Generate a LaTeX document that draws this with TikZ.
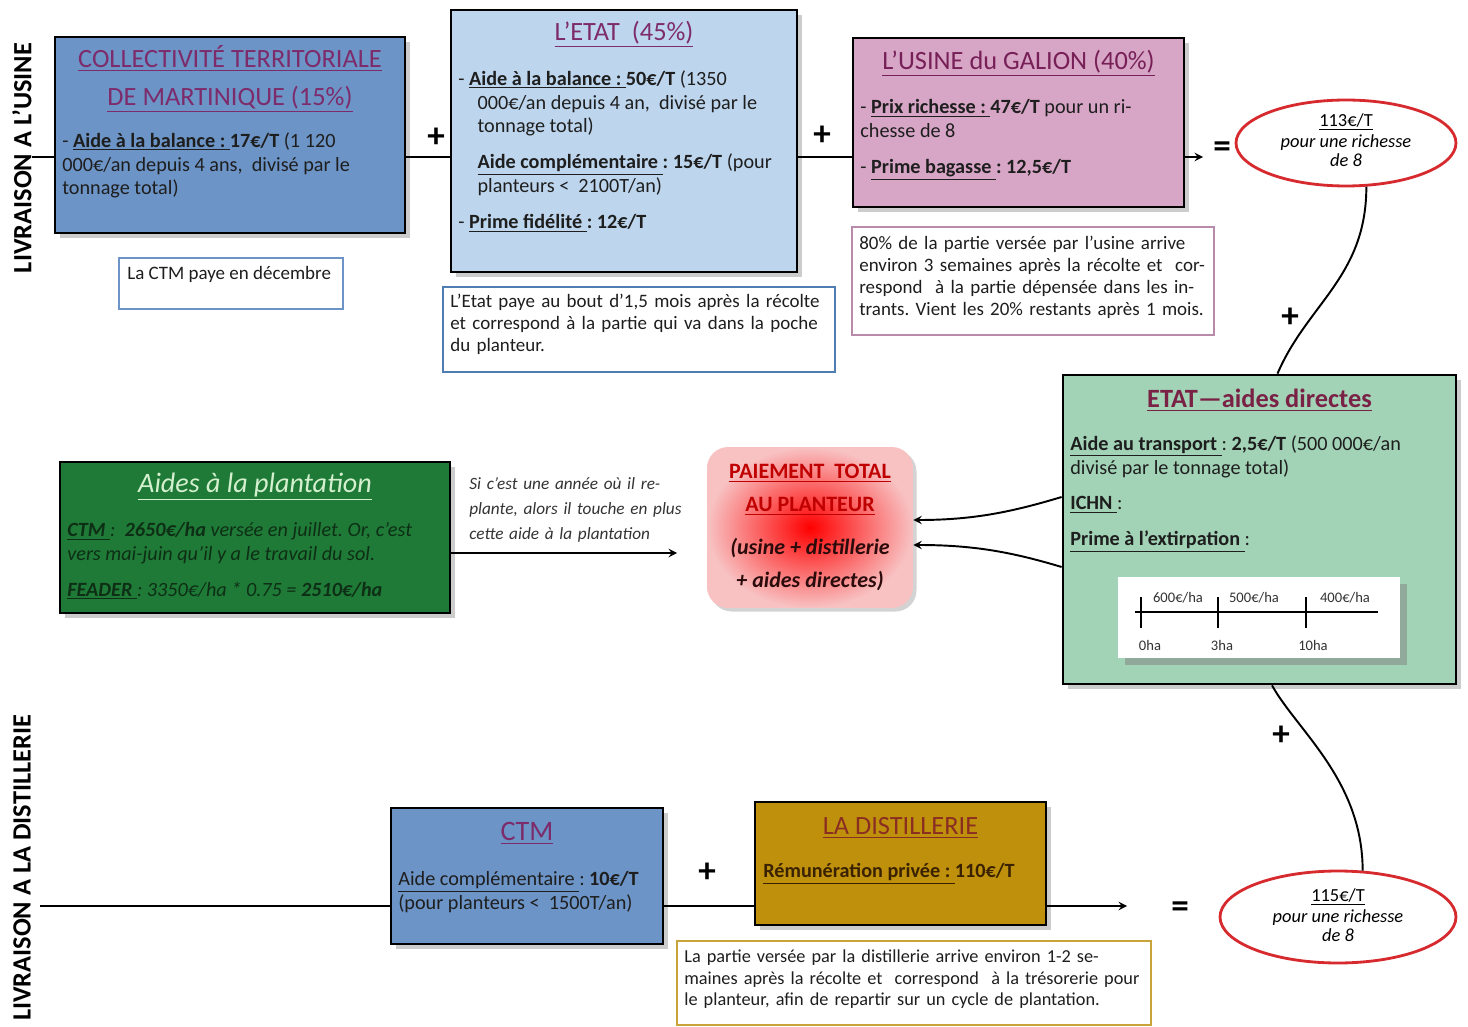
\documentclass[tikz,border=0pt]{standalone}
\usepackage{fontspec}
\setmainfont{Carlito}
\usetikzlibrary{positioning, shapes.geometric, shadows}

\definecolor{ctmblue}{HTML}{6C94C6}
\definecolor{etatblue}{HTML}{BDD6EE}
\definecolor{usinepink}{HTML}{D7A5C5}
\definecolor{eadgreen}{HTML}{A2D3B6}
\definecolor{plantgreen}{HTML}{1E7A36}
\definecolor{plantlight}{HTML}{D4F0CF}
\definecolor{planttxt}{HTML}{0E2E15}
\definecolor{distgold}{HTML}{BE900C}
\definecolor{disttxt}{HTML}{3A2200}
\definecolor{ttlpurple}{HTML}{7D2B6B}
\definecolor{ttlplum}{HTML}{772057}
\definecolor{ttlwine}{HTML}{7A2246}
\definecolor{ttlbrown}{HTML}{8A2E22}
\definecolor{notblue}{HTML}{4F7DB2}
\definecolor{notmauve}{HTML}{B88BAA}
\definecolor{notgold}{HTML}{C9A43A}
\definecolor{ellred}{HTML}{D62A2E}
\definecolor{paiepink}{HTML}{F8C2C3}
\definecolor{paiered}{HTML}{C00000}
\definecolor{paietxt}{HTML}{2B0B0B}
\definecolor{txtdark}{HTML}{1E1E1E}
\definecolor{txtgrey}{HTML}{333333}

\newcommand{\jline}[1]{\makebox[\linewidth][s]{#1}}
\frenchspacing

\begin{document}
\begin{tikzpicture}[x=0.02cm, y=-0.02cm,
    box/.style={draw=black, line width=1.6pt,
                drop shadow={opacity=0.4, shadow xshift=3pt, shadow yshift=-3pt}},
    notebox/.style={draw, line width=1.2pt, fill=white},
    ttl/.style={font=\fontsize{15}{21.5}\selectfont, align=center, inner sep=0pt},
    body/.style={font=\fontsize{11.5}{13.6}\selectfont, align=left,
                 anchor=north west, inner sep=0pt, text=txtdark},
    ntxt/.style={font=\fontsize{10.8}{12.5}\selectfont, align=left,
                 anchor=north west, inner sep=0pt, text=txtdark},
    conn/.style={line width=1.1pt},
    arr/.style={conn, -stealth},
    opsign/.style={font=\bfseries\fontsize{20}{20}\selectfont, inner sep=0pt},
    sidelbl/.style={rotate=90, font=\bfseries\fontsize{15}{16}\selectfont, inner sep=0pt},
    res/.style={ellipse, draw=ellred, line width=1.6pt, fill=white, inner sep=0pt},
    restxt/.style={align=center, inner sep=0pt, font=\fontsize{10.5}{12}\selectfont},
    tlabel/.style={font=\fontsize{8.3}{9}\selectfont, text=txtgrey, inner sep=0pt}
]
\useasboundingbox (0,0) rectangle (1468,1027);

% --- side labels ---
\node[sidelbl] (livU) at (22,158) {LIVRAISON A L’USINE};
\node[sidelbl] (livD) at (22,868) {LIVRAISON A LA DISTILLERIE};

% --- livraison a l'usine ---
\node[box, fill=ctmblue, minimum width=7cm, minimum height=3.92cm] (ctm) at (230,135) {};
\node[ttl, text=ttlpurple] (ctmT) at (230,79)
    {\underline{COLLECTIVITÉ TERRITORIALE}\\ \underline{DE MARTINIQUE (15\%)}};
\node[body] (ctmB) at (62,132)
    {- \textbf{\underline{Aide à la balance :\ }17€/T} (1 120\\000€/an depuis 4 ans,\ \ divisé par le\\tonnage total)};

\node[box, fill=etatblue, minimum width=6.92cm, minimum height=5.24cm] (etat) at (624,141) {};
\node[ttl, text=ttlpurple] (etatT) at (624,34) {\underline{L’ETAT\ \ (45\%)}};
\node[body] (etatB) at (458,70)
    {- \textbf{\underline{Aide à la balance :\ }50€/T} (1350\\
     \hspace*{0.95em}000€/an depuis 4 an,\ \ divisé par le\\
     \hspace*{0.95em}tonnage total)\\[6.8pt]
     \hspace*{0.95em}\textbf{\underline{Aide complémentaire }: 15€/T} (pour\\
     \hspace*{0.95em}planteurs <\ \ 2100T/an)\\[6.8pt]
     - \textbf{\underline{Prime fidélité }: 12€/T}};

\node[box, fill=usinepink, minimum width=6.62cm, minimum height=3.38cm] (usine) at (1018.5,122.5) {};
\node[ttl, text=ttlplum] (usineT) at (1018.5,63) {\underline{L’USINE du GALION (40\%)}};
\node[body] (usineB) at (860,99)
    {- \textbf{\underline{Prix richesse :\ }47€/T} pour un ri-\\chesse de 8\\[6.8pt]
     - \textbf{\underline{Prime bagasse }: 12,5€/T}};

% notes
\node[notebox, draw=ctmblue, minimum width=4.48cm, minimum height=1.02cm] (ctmN) at (231,283.5) {};
\node[ntxt] (ctmNT) at (127,266) {La CTM paye en décembre};

\node[notebox, draw=notblue, minimum width=7.84cm, minimum height=1.7cm] (etatN) at (639,329.5) {};
\node[ntxt, text width=7.56cm] (etatNT) at (450,294)
    {\jline{L’Etat paye au bout d’1,5 mois après la récolte}\\
     \jline{et correspond à la partie qui va dans la poche}\\du planteur.};

\node[notebox, draw=notmauve, minimum width=7.24cm, minimum height=2.16cm] (usineN) at (1033,281) {};
\node[ntxt, text width=6.96cm] (usineNT) at (859,236)
    {\jline{80\% de la partie versée par l’usine arrive}\\
     \jline{environ 3 semaines après la récolte et\ \ cor-}\\
     \jline{respond\ \ à la partie dépensée dans les in-}\\
     trants. Vient les 20\% restants après 1 mois.};

\node[res, minimum width=4.4cm, minimum height=1.72cm] (resU) at (1346,143) {};
\node[restxt] (resUT) at (1346,140)
    {\underline{113€/T}\\\textit{pour une richesse}\\[-1.5pt]\textit{de 8}};

\node[opsign] (p1) at (436,138) {+};
\node[opsign] (p2) at (822,136) {+};
\node[opsign] (eqU) at (1222,150) {=};

\coordinate (lineU) at (32,157);
\coordinate (arrU) at (1203,157);
\draw[conn] (lineU) -- (ctm.west |- lineU);
\draw[conn] (ctm.east |- lineU) -- (etat.west |- lineU);
\draw[conn] (etat.east |- lineU) -- (usine.west |- lineU);
\draw[arr] (usine.east |- lineU) -- (arrU);

% --- aides directes ---
\node[box, fill=eadgreen, minimum width=7.86cm, minimum height=6.18cm] (ead) at (1259.5,529.5) {};
\node[ttl, font=\bfseries\fontsize{15}{18}\selectfont, text=ttlwine] (eadT) at (1259.5,400)
    {\underline{ETAT—aides directes}};
\node[body] (eadB) at (1070,435)
    {\textbf{\underline{Aide au transport }}: \textbf{2,5€/T} (500 000€/an\\divisé par le tonnage total)\\[6.8pt]
     \textbf{\underline{ICHN }}:\\[6.8pt]
     \textbf{\underline{Prime à l’extirpation }}:};

\node[fill=white, minimum width=5.64cm, minimum height=1.62cm,
      drop shadow={opacity=0.5, shadow xshift=4pt, shadow yshift=-4pt}] (tl) at (1259,617.5) {};
\draw[line width=1.4pt] (1135,612) -- (1378,612);
\foreach \x in {1141,1218,1306}
    \draw[line width=1.4pt] (\x,597) -- (\x,628);
\foreach \x/\t [count=\i] in {1178/{600€/ha},1254/{500€/ha},1345/{400€/ha}}
    \node[tlabel] (tlA\i) at (\x,598) {\t};
\foreach \x/\t [count=\i] in {1150/0ha,1222/3ha,1313/10ha}
    \node[tlabel] (tlB\i) at (\x,645) {\t};

\draw[conn] (resU.-65) .. controls +(0,90) and +(30,-70) .. ([xshift=0.36cm]ead.north);
\node[opsign] (p3) at (1290,318) {+};

% --- plantation ---
\node[box, fill=plantgreen, minimum width=7.8cm, minimum height=3.02cm] (plant) at (255,537.5) {};
\node[ttl, font=\itshape\fontsize{16}{18}\selectfont, text=plantlight] (plantT) at (255,487)
    {\underline{Aides à la plantation}};
\node[body, font=\itshape\fontsize{11.5}{13.6}\selectfont, text=planttxt] (plantB) at (67,522)
    {\textbf{\underline{CTM }}:\ \ \textbf{2650€/ha} versée en juillet. Or, c’est\\
     vers mai-juin qu’il y a le travail du sol.\\[6.8pt]
     \textbf{\underline{FEADER }}: 3350€/ha * 0.75 = \textbf{2510€/ha}};

\node[ntxt, font=\itshape\fontsize{9.8}{14.2}\selectfont, text width=4.26cm, text=txtgrey] (plantS) at (469,477)
    {\jline{Si c’est une année où il re-}\\\jline{plante, alors il touche en plus}\\cette aide à la plantation};
\coordinate (plEnd) at (677,553);
\draw[arr] (plant.east |- plEnd) -- (plEnd);

% --- paiement total ---
\node[rounded corners=12pt, minimum width=4.12cm, minimum height=3.22cm,
      inner color=red, outer color=paiepink,
      drop shadow={opacity=0.35, shadow xshift=2pt, shadow yshift=-2pt},
      align=center, font=\fontsize{12.5}{18.7}\selectfont, text=paietxt] (paie) at (810,527.5)
    {\textcolor{paiered}{\bfseries\underline{PAIEMENT\ \ TOTAL}}\\
     \textcolor{paiered}{\bfseries\underline{AU PLANTEUR}}\\[5.7pt]
     \textbf{\textit{(usine + distillerie}}\\\textbf{\textit{+ aides directes)}}};

\draw[arr] ([yshift=0.65cm]ead.west) .. controls +(-50,15) and +(60,0) .. ([yshift=0.15cm]paie.east);
\draw[arr] ([yshift=-0.75cm]ead.west) .. controls +(-50,-15) and +(60,0) .. ([yshift=-0.35cm]paie.east);

% --- livraison a la distillerie ---
\node[box, fill=ctmblue, minimum width=5.44cm, minimum height=2.72cm] (ctmD) at (527,876) {};
\node[ttl, font=\fontsize{16}{18}\selectfont, text=ttlpurple] (ctmDT) at (527,833) {\underline{CTM}};
\node[body] (ctmDB) at (398,871)
    {\underline{Aide complémentaire }: \textbf{10€/T}\\(pour planteurs <\ \ 1500T/an)};

\node[box, fill=distgold, minimum width=5.82cm, minimum height=2.46cm] (dist) at (900.5,863.5) {};
\node[ttl, text=ttlbrown] (distT) at (900.5,828) {\underline{LA DISTILLERIE}};
\node[body, text=disttxt] (distB) at (763,863) {\textbf{\underline{Rémunération privée :\ }110€/T}};

\node[opsign] (p5) at (707,873) {+};
\node[opsign] (eqD) at (1180,910) {=};
\node[res, minimum width=4.72cm, minimum height=1.84cm] (resD) at (1338,917) {};
\node[restxt] (resDT) at (1338,915)
    {\underline{115€/T}\\\textit{pour une richesse}\\[-1.5pt]\textit{de 8}};

\node[notebox, draw=notgold, minimum width=9.48cm, minimum height=1.68cm] (distN) at (914,983) {};
\node[ntxt, font=\fontsize{10.4}{12.5}\selectfont, text width=9.18cm] (distNT) at (684,949)
    {\jline{La partie versée par la distillerie arrive environ 1-2 se-}\\
     \jline{maines après la récolte et\ \ correspond\ \ à la trésorerie pour}\\
     le planteur, afin de repartir sur un cycle de plantation.};

\coordinate (lineD) at (40,906);
\coordinate (arrD) at (1127,906);
\draw[conn] (lineD) -- (ctmD.west |- lineD);
\draw[conn] (ctmD.east |- lineD) -- (dist.west |- lineD);
\draw[arr] (dist.east |- lineD) -- (arrD);

\draw[conn] ([xshift=0.25cm]ead.south) .. controls +(25,45) and +(0,-90) .. (resD.62);
\node[opsign] (p4) at (1281,736) {+};
\end{tikzpicture}
\end{document}
